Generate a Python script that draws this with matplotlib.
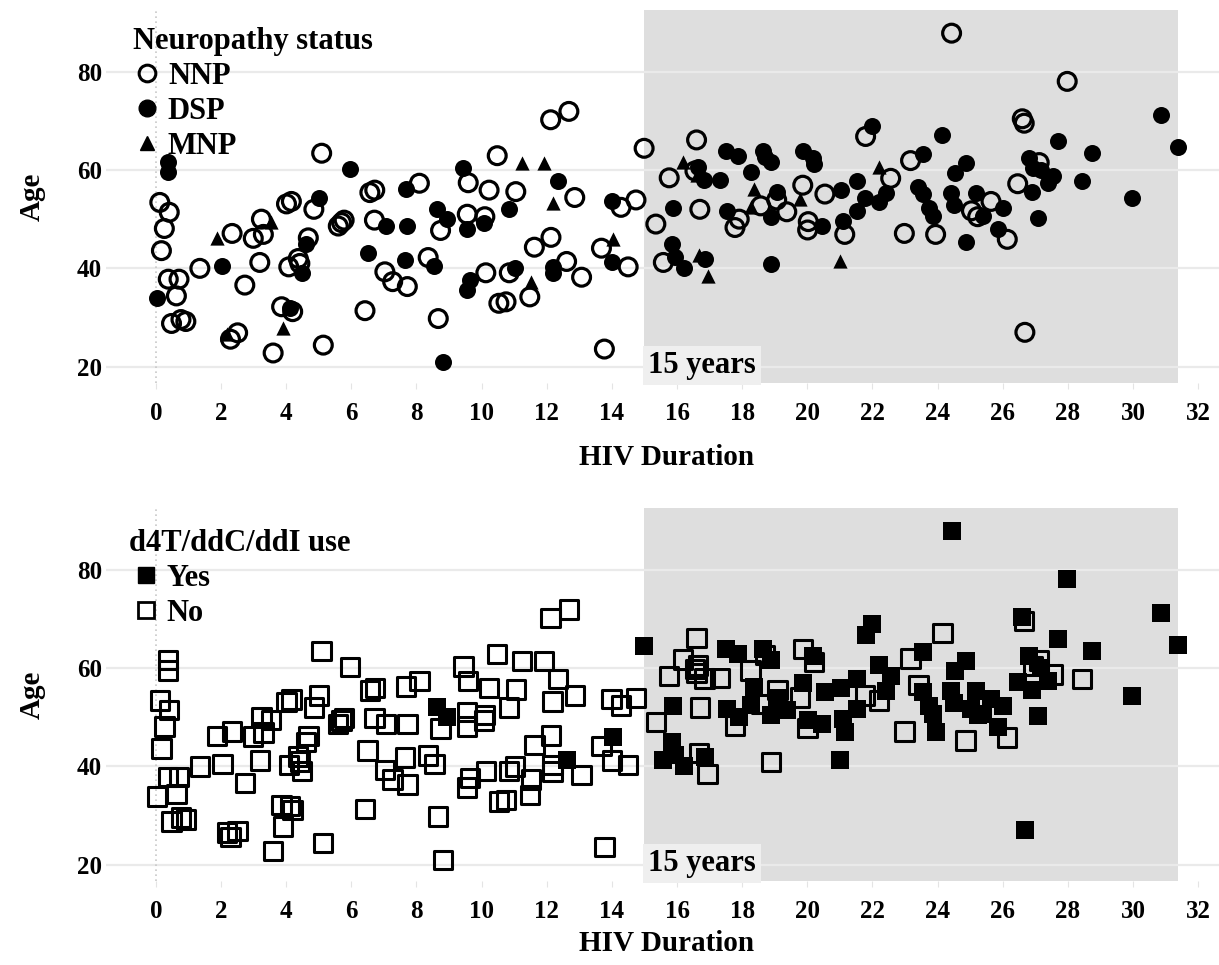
import matplotlib
matplotlib.use("Agg")
import matplotlib.pyplot as plt
from matplotlib.lines import Line2D

plt.rcParams["font.family"] = ["Liberation Serif", "DejaVu Serif"]
plt.rcParams["font.weight"] = "bold"

# HIV duration (years), age, neuropathy status and d4T/ddC/ddI use per patient
duration = [
    5.09, 5.96, 0.38, 0.38, 0.12, 0.41, 0.26, 0.17, 0.38, 0.71,
    0.04, 0.63, 0.48, 0.77, 0.92, 1.35, 2.04, 1.88, 2.34, 2.73,
    2.19, 2.29, 2.51, 3.19, 2.99, 3.30, 3.24, 3.53, 3.60, 3.86,
    4.11, 4.20, 3.91, 4.01, 4.16, 4.08, 4.37, 4.42, 4.49, 4.68,
    4.61, 4.85, 5.01, 5.14, 5.60, 5.70, 5.78, 6.57, 6.72, 6.71,
    7.06, 6.50, 6.42, 7.03, 7.27, 7.68, 8.09, 7.72, 7.65, 8.36,
    8.55, 7.72, 8.62, 8.94, 8.74, 8.67, 8.82, 9.44, 9.59, 9.56,
    9.56, 9.64, 9.56, 10.10, 10.07, 10.13, 10.48, 10.23, 10.84, 11.05,
    11.25, 11.92, 12.35, 12.18, 12.86, 12.12, 12.68, 10.85, 11.02, 10.53,
    10.75, 11.51, 11.48, 11.62, 12.13, 12.18, 12.18, 12.61, 13.07, 13.68,
    14.04, 14.01, 14.50, 13.99, 14.28, 14.74, 13.77, 14.99, 15.76, 15.35,
    15.88, 15.86, 15.93, 15.58, 16.21, 16.19, 16.60, 16.65, 16.55, 16.60,
    16.84, 16.70, 16.68, 16.86, 16.94, 17.32, 17.50, 17.88, 17.52, 17.91,
    17.78, 18.26, 18.36, 18.27, 18.57, 18.63, 18.70, 18.90, 19.08, 19.06,
    19.37, 18.88, 18.88, 19.86, 20.19, 20.21, 19.86, 19.78, 20.54, 20.03,
    20.01, 20.44, 21.02, 21.10, 21.15, 21.00, 21.54, 21.77, 21.54, 21.79,
    22.00, 22.20, 22.41, 22.21, 22.56, 22.98, 23.17, 23.54, 23.41, 23.54,
    23.74, 23.85, 23.94, 24.15, 24.43, 24.53, 24.41, 24.50, 24.86, 24.86,
    25.18, 25.04, 25.23, 25.40, 25.64, 26.02, 25.86, 26.14, 26.46, 26.60,
    26.66, 26.68, 26.81, 27.12, 26.93, 27.19, 26.89, 27.40, 27.53, 27.07,
    27.70, 27.98, 28.73, 28.44, 29.96, 30.86, 31.37,
]
age = [
    63.4, 60.2, 61.6, 59.5, 53.4, 51.4, 48.1, 43.6, 37.8, 37.8,
    33.9, 34.4, 28.8, 29.6, 29.2, 40.0, 40.5, 46.2, 47.1, 36.6,
    26.6, 25.6, 26.9, 41.2, 46.1, 46.9, 50.0, 49.4, 22.8, 32.2,
    31.9, 31.2, 27.8, 53.1, 53.6, 40.3, 42.0, 41.0, 39.1, 46.2,
    44.9, 52.0, 54.4, 24.4, 48.6, 49.3, 49.8, 55.4, 55.9, 49.8,
    48.6, 43.2, 31.4, 39.3, 37.3, 56.2, 57.3, 48.6, 41.8, 42.2,
    40.5, 36.3, 52.0, 50.0, 47.7, 29.8, 21.0, 60.3, 57.4, 51.0,
    48.1, 37.6, 35.7, 50.5, 49.3, 39.1, 62.9, 55.9, 52.0, 55.6,
    61.4, 61.4, 57.8, 53.2, 54.4, 70.2, 71.9, 39.1, 40.0, 32.9,
    33.2, 37.3, 34.2, 44.3, 46.3, 40.3, 39.0, 41.4, 38.2, 44.1,
    46.0, 41.2, 40.3, 53.7, 52.4, 53.9, 23.6, 64.4, 58.4, 49.0,
    52.2, 44.9, 42.4, 41.2, 40.1, 61.7, 66.1, 60.5, 59.8, 59.0,
    57.9, 52.0, 42.7, 42.0, 38.4, 58.0, 63.9, 62.9, 51.7, 50.0,
    48.3, 59.5, 56.1, 52.4, 52.7, 63.9, 62.7, 61.6, 55.5, 53.9,
    51.5, 50.4, 40.9, 63.9, 62.4, 61.2, 56.9, 54.0, 55.1, 49.5,
    47.8, 48.6, 55.9, 49.6, 46.9, 41.4, 57.8, 54.4, 51.7, 66.8,
    69.0, 53.4, 55.3, 60.7, 58.3, 47.1, 61.9, 63.3, 56.5, 55.1,
    52.2, 50.6, 46.9, 67.1, 87.8, 59.3, 55.3, 52.9, 61.4, 45.3,
    55.3, 51.7, 50.5, 50.6, 53.6, 52.3, 48.1, 45.9, 57.2, 70.4,
    69.5, 27.0, 62.4, 61.5, 60.4, 60.0, 55.6, 57.4, 58.7, 50.2,
    65.8, 78.0, 63.4, 57.8, 54.4, 71.2, 64.7,
]
neuropathy = [
    "NNP", "DSP", "DSP", "DSP", "NNP", "NNP", "NNP", "NNP", "NNP", "NNP",
    "DSP", "NNP", "NNP", "NNP", "NNP", "NNP", "DSP", "MNP", "NNP", "NNP",
    "MNP", "NNP", "NNP", "NNP", "NNP", "NNP", "NNP", "MNP", "NNP", "NNP",
    "DSP", "NNP", "MNP", "NNP", "NNP", "NNP", "NNP", "NNP", "DSP", "NNP",
    "DSP", "NNP", "DSP", "NNP", "NNP", "NNP", "NNP", "NNP", "NNP", "NNP",
    "DSP", "DSP", "NNP", "NNP", "NNP", "DSP", "NNP", "DSP", "DSP", "NNP",
    "DSP", "NNP", "DSP", "DSP", "NNP", "NNP", "DSP", "DSP", "NNP", "NNP",
    "DSP", "DSP", "DSP", "NNP", "DSP", "NNP", "NNP", "NNP", "DSP", "NNP",
    "MNP", "MNP", "DSP", "MNP", "NNP", "NNP", "NNP", "NNP", "DSP", "NNP",
    "NNP", "MNP", "NNP", "NNP", "NNP", "DSP", "DSP", "NNP", "NNP", "NNP",
    "MNP", "DSP", "NNP", "DSP", "NNP", "NNP", "NNP", "NNP", "NNP", "NNP",
    "DSP", "DSP", "DSP", "NNP", "DSP", "MNP", "NNP", "DSP", "NNP", "MNP",
    "DSP", "NNP", "MNP", "DSP", "MNP", "DSP", "DSP", "DSP", "DSP", "NNP",
    "NNP", "DSP", "MNP", "MNP", "NNP", "DSP", "DSP", "DSP", "DSP", "NNP",
    "NNP", "DSP", "DSP", "DSP", "DSP", "DSP", "NNP", "MNP", "NNP", "NNP",
    "NNP", "DSP", "DSP", "DSP", "NNP", "MNP", "DSP", "DSP", "DSP", "NNP",
    "DSP", "DSP", "DSP", "MNP", "NNP", "NNP", "NNP", "DSP", "DSP", "DSP",
    "DSP", "DSP", "NNP", "DSP", "NNP", "DSP", "DSP", "DSP", "DSP", "DSP",
    "DSP", "NNP", "NNP", "DSP", "NNP", "DSP", "DSP", "NNP", "NNP", "NNP",
    "NNP", "NNP", "DSP", "NNP", "DSP", "DSP", "DSP", "DSP", "DSP", "DSP",
    "DSP", "NNP", "DSP", "DSP", "DSP", "DSP", "DSP",
]
d4t_use = [
    "No", "No", "No", "No", "No", "No", "No", "No", "No", "No",
    "No", "No", "No", "No", "No", "No", "No", "No", "No", "No",
    "No", "No", "No", "No", "No", "No", "No", "No", "No", "No",
    "No", "No", "No", "No", "No", "No", "No", "No", "No", "No",
    "No", "No", "No", "No", "No", "No", "No", "No", "No", "No",
    "No", "No", "No", "No", "No", "No", "No", "No", "No", "No",
    "No", "No", "Yes", "Yes", "No", "No", "No", "No", "No", "No",
    "No", "No", "No", "No", "No", "No", "No", "No", "No", "No",
    "No", "No", "No", "No", "No", "No", "No", "No", "No", "No",
    "No", "No", "No", "No", "No", "No", "No", "Yes", "No", "No",
    "Yes", "No", "No", "No", "No", "No", "No", "Yes", "No", "No",
    "Yes", "Yes", "Yes", "Yes", "Yes", "No", "No", "No", "No", "No",
    "No", "No", "No", "Yes", "No", "No", "Yes", "Yes", "Yes", "Yes",
    "No", "No", "Yes", "Yes", "No", "Yes", "No", "Yes", "No", "Yes",
    "Yes", "Yes", "No", "No", "Yes", "No", "Yes", "No", "Yes", "Yes",
    "No", "Yes", "Yes", "Yes", "Yes", "Yes", "Yes", "No", "Yes", "Yes",
    "Yes", "No", "Yes", "Yes", "Yes", "No", "No", "Yes", "No", "Yes",
    "Yes", "Yes", "Yes", "No", "Yes", "Yes", "Yes", "Yes", "Yes", "No",
    "Yes", "Yes", "Yes", "Yes", "Yes", "Yes", "Yes", "No", "Yes", "Yes",
    "No", "Yes", "Yes", "No", "No", "Yes", "Yes", "Yes", "No", "Yes",
    "Yes", "Yes", "Yes", "No", "Yes", "Yes", "Yes",
]

x_ticks = list(range(0, 33, 2))
y_ticks = [20, 40, 60, 80]
cutoff = 15
cutoff_label = "15 years"

XLIM = (-1.53, 32.64)
YLIM = (16.7, 92.5)
SHADE = "#dedede"


def subset(labels, key):
    xs = [d for d, l in zip(duration, labels) if l == key]
    ys = [a for a, l in zip(age, labels) if l == key]
    return xs, ys


def style_axis(ax, xlabel_y):
    ax.set_xlim(*XLIM)
    ax.set_ylim(*YLIM)
    ax.axvspan(cutoff, max(duration), color=SHADE, lw=0, zorder=0)
    for y in y_ticks:
        ax.axhline(y, color="#eaeaea", lw=1.6, zorder=0.5)
    ax.axvline(0, color="#c8c8c8", lw=1.2, ls=(0, (1, 2)), zorder=0.5)
    for s in ax.spines.values():
        s.set_visible(False)
    ax.set_xticks(x_ticks)
    ax.set_yticks(y_ticks)
    ax.tick_params(axis="x", length=4, color="#e4e4e4", labelsize=18, pad=10)
    ax.tick_params(axis="y", length=0, labelsize=18, pad=3)
    for lab in ax.get_xticklabels() + ax.get_yticklabels():
        lab.set_fontweight("bold")
    ax.set_xlabel("HIV Duration", fontsize=21, fontweight="bold")
    ax.xaxis.set_label_coords(0.504, xlabel_y)
    ax.set_ylabel("Age", fontsize=21, fontweight="bold", labelpad=22)
    ax.text(cutoff + 0.12, YLIM[0] + 0.6, cutoff_label, fontsize=22,
            fontweight="bold", va="bottom", ha="left", zorder=3,
            bbox=dict(facecolor="#efefef", edgecolor="none", pad=3.5))


fig = plt.figure(figsize=(12.19, 9.65), dpi=100)
ax1 = fig.add_axes([0.0870, 0.6031, 0.9130, 0.3865])
ax2 = fig.add_axes([0.0870, 0.0870, 0.9130, 0.3865])

# top: neuropathy status
style_axis(ax1, -0.163)
x, y = subset(neuropathy, "NNP")
ax1.scatter(x, y, s=165, facecolors="none", edgecolors="black", linewidths=2.3, zorder=3)
x, y = subset(neuropathy, "DSP")
ax1.scatter(x, y, s=150, color="black", lw=0, zorder=3)
x, y = subset(neuropathy, "MNP")
ax1.scatter(x, y, s=105, marker="^", color="black", lw=0, zorder=3)

h1 = [
    Line2D([], [], ls="", marker="o", ms=12, mfc="none", mec="black", mew=2.2),
    Line2D([], [], ls="", marker="o", ms=12, color="black"),
    Line2D([], [], ls="", marker="^", ms=10, color="black"),
]
ax1.legend(h1, ["NNP", "DSP", "MNP"], title="Neuropathy status",
           loc="upper left", bbox_to_anchor=(0.024, 0.955), frameon=False,
           alignment="left", prop=dict(size=22, weight="bold"),
           title_fontproperties=dict(size=22, weight="bold"),
           handlelength=0.9, handletextpad=0.25, labelspacing=0.2,
           borderpad=0, borderaxespad=0)

# bottom: d4T/ddC/ddI use
style_axis(ax2, -0.13)
x, y = subset(d4t_use, "No")
ax2.scatter(x, y, s=175, marker="s", facecolors="none", edgecolors="black", linewidths=2.2, zorder=3)
x, y = subset(d4t_use, "Yes")
ax2.scatter(x, y, s=175, marker="s", color="black", lw=0, zorder=3)

h2 = [
    Line2D([], [], ls="", marker="s", ms=11, color="black"),
    Line2D([], [], ls="", marker="s", ms=11, mfc="none", mec="black", mew=2.0),
]
ax2.legend(h2, ["Yes", "No"], title="d4T/ddC/ddI use",
           loc="upper left", bbox_to_anchor=(0.021, 0.945), frameon=False,
           alignment="left", prop=dict(size=22, weight="bold"),
           title_fontproperties=dict(size=22, weight="bold"),
           handlelength=1.1, handletextpad=0.1, labelspacing=0.2,
           borderpad=0, borderaxespad=0)

fig.savefig("out.png", dpi=100)
